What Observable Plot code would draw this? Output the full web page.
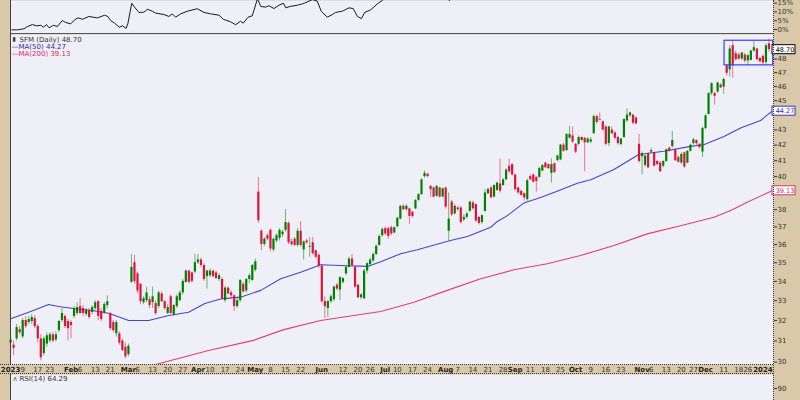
<!DOCTYPE html>
<html><head><meta charset="utf-8">
<script src="https://cdn.jsdelivr.net/npm/d3@7"></script>
<script src="https://cdn.jsdelivr.net/npm/@observablehq/plot@0.6"></script>
<style>
html,body{margin:0;padding:0;background:#fff;}
#chart{position:relative;width:800px;height:400px;overflow:hidden;background:#d9c9a9;font-family:"DejaVu Sans",Verdana,sans-serif;}
#chart > div.panel{position:absolute;left:0;}
#chart svg{display:block;}
.ln{position:absolute;}
</style></head><body>
<div id="chart">
  <div id="top" class="panel" style="top:0"></div>
  <div id="main" class="panel" style="top:34px"></div>
  <div id="rsi" class="panel" style="top:374px"></div>
  <div class="ln" style="left:10px;top:33px;width:763px;border-top:1px solid #555"></div>
  <div class="ln" style="left:0;top:364px;width:773px;border-top:1px dotted #333"></div>
  <div class="ln" style="left:0;top:373px;width:773px;border-top:1px dotted #333"></div>
  <div class="ln" style="left:773px;top:0;height:400px;border-left:1px dotted #333"></div>
  <div class="ln" style="left:10px;top:0;height:364px;border-left:1px solid #444"></div>
  <div class="ln" style="left:10px;top:374px;height:26px;border-left:1px solid #444"></div>
</div>
<script>
// ---- Daily OHLC, 3 Jan 2023 .. 3 Jan 2024 (trading-day index) ----
const opens = [30.9,30.8,31.1,31.55,31.2,32.0,31.9,31.95,32.1,31.7,31.1,30.4,30.85,31.0,31.3,31.05,31.5,32.0,32.2,31.95,
31.9,32.2,32.35,32.7,32.6,32.3,32.5,32.4,32.6,32.95,32.45,32.4,32.75,32.35,31.9,31.35,31.35,31.0,30.7,
30.35,33.95,35.0,34.4,33.85,32.9,33.0,33.05,32.9,32.85,32.7,33.35,32.95,32.35,33.2,32.3,32.7,33.0,33.4,33.95,34.55,34.45,34.5,
35.0,35.15,34.85,34.25,34.3,34.55,34.45,34.1,34.1,33.0,33.65,33.4,33.25,32.7,33.0,33.85,33.5,34.1,34.05,
34.6,39.05,36.75,36.0,36.5,36.8,35.7,36.2,36.35,36.55,36.8,37.2,36.15,36.3,35.95,36.75,35.7,36.2,35.85,36.1,35.65,35.4,
34.8,32.95,32.6,32.95,33.05,33.8,33.55,33.95,34.4,34.75,35.2,34.75,33.8,33.15,33.1,34.55,34.9,35.1,35.45,35.95,36.5,
36.9,36.9,36.95,36.65,37.0,37.45,38.2,38.0,38.05,37.85,38.05,38.55,38.9,40.0,40.15,39.4,39.3,38.8,39.3,38.75,
39.3,36.75,38.45,37.75,38.1,38.1,37.4,37.55,37.9,38.4,38.3,37.55,37.25,37.9,38.95,39.3,38.75,39.15,39.55,39.45,39.8,40.65,40.75,
40.1,39.3,39.1,38.95,38.6,40.0,40.1,39.95,39.95,40.35,40.85,40.75,40.2,40.8,41.0,41.05,42.0,41.65,42.45,42.6,
42.05,42.05,42.5,42.45,42.15,42.2,42.75,43.9,43.7,43.55,43.2,42.1,43.0,42.8,42.5,42.05,42.5,43.6,43.95,44.0,43.8,42.05,
41.25,40.7,41.45,41.55,41.5,40.95,40.85,40.65,40.95,41.8,41.9,41.7,41.2,40.85,41.5,40.85,41.6,42.1,42.3,42.05,41.55,
43.1,44.05,45.5,45.5,45.6,46.1,45.95,47.5,47.2,49.0,48.4,48.3,48.0,48.3,47.85,47.9,48.6,48.75,48.05,48.2,
47.75,49.15];
const highs = [31.5,31.0,31.8,31.7,32.1,32.2,32.2,32.3,32.25,31.8,31.3,31.2,31.4,31.4,31.4,31.45,32.0,32.6,32.3,32.05,
32.0,32.7,32.9,33.1,32.75,32.6,32.6,32.75,33.0,33.0,32.6,32.9,33.25,32.4,32.0,32.0,31.45,31.1,30.9,
30.85,35.45,35.4,34.5,33.9,33.2,33.7,33.2,33.7,33.0,33.5,33.45,33.0,32.8,33.3,32.8,33.3,33.5,34.1,34.6,34.6,34.5,35.45,
35.45,35.25,34.95,34.6,34.65,34.6,34.55,34.4,34.2,33.75,33.7,33.5,33.3,33.1,34.1,33.95,34.15,34.4,34.9,
35.2,39.95,36.85,36.4,36.6,36.9,36.35,36.6,36.9,36.8,38.0,37.3,36.3,36.4,36.9,37.3,36.2,36.3,36.4,36.4,35.7,35.5,
34.9,33.2,33.0,33.3,33.75,33.9,34.25,34.2,34.8,35.3,35.45,34.8,33.85,33.35,34.65,35.0,35.25,35.55,36.0,36.55,36.95,
37.0,37.0,37.05,37.0,37.55,38.25,38.3,38.3,38.1,37.9,38.6,38.95,39.85,40.35,40.2,39.45,39.35,39.45,39.35,39.3,
39.35,39.0,38.55,38.3,38.2,38.2,37.7,37.85,38.5,38.5,38.35,37.6,37.7,39.2,39.3,39.4,39.5,39.65,41.1,39.9,40.5,41.1,40.8,
40.15,39.35,39.15,39.0,39.85,40.1,40.15,40.0,40.6,40.75,40.9,40.8,41.1,40.85,41.35,42.05,42.1,42.75,43.25,43.2,
42.1,42.6,42.55,42.5,42.5,42.5,44.0,44.0,44.15,43.6,43.3,43.25,43.2,42.9,42.6,42.45,43.75,44.45,44.2,44.05,43.9,42.7,
41.55,41.35,41.5,41.8,41.55,41.0,40.95,41.0,41.75,41.9,42.9,41.75,41.3,41.5,41.55,41.65,42.05,42.45,42.35,42.1,43.2,
44.05,45.55,46.25,45.6,46.3,46.2,46.6,47.6,49.0,49.35,48.6,48.45,48.5,48.4,48.35,48.65,49.3,48.8,48.1,48.3,
49.15,49.5];
const lows = [30.4,30.3,31.0,31.3,31.1,31.6,31.8,31.8,31.6,30.9,30.05,30.3,30.7,30.9,30.9,30.95,31.4,31.9,31.6,31.0,
31.1,32.1,32.25,32.3,32.2,32.2,32.05,32.3,32.5,32.0,31.95,32.3,32.6,31.5,31.4,31.2,30.8,30.5,30.15,
30.25,33.9,33.85,33.35,32.8,32.8,32.9,32.6,32.6,32.25,32.6,32.9,32.5,32.3,32.3,32.2,32.6,32.95,33.3,33.9,33.9,33.9,34.4,
34.9,34.75,34.0,33.6,34.2,34.2,34.1,34.0,33.05,32.9,33.3,33.1,32.45,32.6,32.9,33.4,33.4,33.9,34.0,
34.5,37.2,35.65,35.9,36.2,35.6,35.6,36.1,36.2,36.4,36.7,36.0,35.9,35.9,35.85,35.85,35.15,36.0,35.3,35.4,35.2,34.7,
32.85,32.1,32.15,32.85,32.95,33.5,33.0,33.85,34.3,34.7,34.8,33.65,33.1,33.05,33.05,34.4,34.8,35.0,35.4,35.9,36.4,
36.5,36.3,36.5,36.6,36.95,37.4,37.95,37.9,37.15,37.5,38.0,38.5,38.85,39.9,39.95,38.75,38.7,38.75,38.7,38.7,
38.05,36.2,37.6,37.7,37.9,37.15,37.3,37.45,37.85,38.0,37.25,37.1,37.15,37.85,38.9,38.65,38.7,39.1,39.0,39.4,39.75,40.2,40.05,
39.1,38.9,38.8,38.5,38.5,39.75,39.6,39.05,39.9,40.3,40.5,40.45,39.6,40.2,40.95,41.0,41.55,41.6,42.4,42.1,
41.45,41.95,42.25,40.3,42.1,42.1,42.7,43.4,43.6,42.9,41.95,41.9,42.7,42.35,42.0,41.95,42.45,43.55,43.85,43.35,43.35,40.85,
40.1,40.6,40.5,41.45,40.6,40.7,40.25,40.55,40.9,41.55,41.8,40.95,40.85,40.75,40.5,40.8,41.55,42.0,42.0,41.75,41.2,
43.0,44.0,45.35,44.7,45.5,45.85,45.45,46.75,46.7,46.6,47.85,47.9,47.9,47.7,47.5,47.85,48.5,47.85,47.7,47.5,
47.5,48.5];
const closes = [31.05,30.65,31.65,31.4,32.0,31.7,32.05,32.15,31.7,31.1,30.2,31.1,31.25,31.3,31.0,31.3,31.95,32.35,31.7,31.6,
31.75,32.6,32.65,32.35,32.35,32.5,32.15,32.65,32.9,32.2,32.05,32.8,32.95,31.6,31.5,31.9,30.9,30.55,30.25,
30.75,34.75,34.0,33.5,32.95,33.1,33.4,32.75,33.2,32.35,33.4,32.95,32.6,32.65,32.35,32.75,33.2,33.4,34.0,34.55,33.95,34.0,35.0,
35.15,34.85,34.1,34.55,34.55,34.25,34.15,34.3,33.1,33.65,33.35,33.25,32.7,33.0,34.05,33.45,34.1,34.3,34.85,
35.05,37.35,36.0,36.3,36.3,35.75,36.3,36.5,36.8,36.7,37.25,36.1,36.0,35.95,36.75,35.95,36.15,36.1,35.9,35.5,35.3,34.8,
32.95,32.7,32.95,33.2,33.7,33.6,34.2,34.15,34.75,35.2,34.85,33.7,33.15,33.3,34.55,34.95,35.15,35.45,35.9,36.45,36.85,
36.6,36.45,36.6,36.95,37.5,38.2,38.0,38.2,37.6,37.6,38.55,38.9,39.8,40.2,40.0,39.2,38.75,39.4,38.75,39.25,
38.15,37.45,37.7,38.2,38.0,37.25,37.55,37.75,38.45,38.05,37.35,37.2,37.65,39.0,39.2,38.7,39.45,39.6,39.1,39.8,40.4,40.3,40.1,
39.2,39.0,38.85,38.7,39.75,39.8,39.65,39.7,40.5,40.7,40.55,40.5,40.75,40.25,41.3,42.0,41.6,42.7,42.7,42.2,
41.55,42.5,42.3,42.15,42.4,42.35,43.9,43.5,43.65,43.0,42.05,43.2,42.75,42.45,42.1,42.4,43.7,44.0,44.15,43.45,43.4,40.95,
41.45,41.3,40.55,41.65,40.65,40.75,40.3,40.95,41.7,41.6,42.3,41.0,40.9,41.4,40.6,41.6,42.0,42.35,42.1,41.85,43.1,
43.95,45.5,46.2,45.3,46.25,45.9,46.5,46.95,48.75,47.5,47.95,48.0,48.45,47.85,48.25,48.6,48.85,47.95,47.8,47.7,
49.0,48.7];

// ---- Moving averages (trading-day index, value) ----
const ma50Idx = [0,6,12.6,15.9,21.4,26.9,32.5,39.1,45.7,52.3,58.9,64.3,69.5,76.1,82.8,89.4,96,102.6,109.2,118.1,122.5,129.1,134.6,145.6,151.2,158.9,161,164.4,169.9,175.4,180.9,187.6,192,199.7,207.9,216.2,225,229.4,236.1,241.6,248.2,252];
const ma50Val = [32.09,32.41,32.8,32.7,32.59,32.5,32.36,32.0,32.0,32.25,32.41,32.86,33.09,33.18,33.53,34.14,34.49,34.89,34.85,34.8,35.05,35.49,35.71,36.23,36.45,36.98,37.3,37.65,38.4,38.73,39.1,39.59,39.8,40.44,41.39,41.6,41.92,42.03,42.57,43.13,43.63,44.27];
const ma200Idx = [48,65.5,80.4,90.4,102.6,115.8,122.5,133.5,144.5,155.6,166.6,177.6,188.6,199.7,210.7,221.7,232.8,238.3,243.8,252];
const ma200Val = [29.89,30.55,31.03,31.55,32.0,32.3,32.45,32.92,33.53,34.14,34.62,34.94,35.39,35.95,36.6,37.07,37.56,37.95,38.44,39.13];

// ---- Upper performance panel (%), trading-day index ----
const perfIdx = [0.4,2.3,4.4,5.6,7.2,8.6,10,10.9,11.9,12.7,14.2,15.5,17.1,18.2,19.9,21.2,22.3,23.8,25.9,28.7,31.1,32.2,33.1,34.4,36,37.1,38.2,38.8,40.1,41.2,42.5,44.1,45.3,46.9,48,50.8,52.4,53.5,54.6,56.3,58.5,61.8,64,66.2,69,70.4,72.8,74.5,76.1,77,78.6,80,81.7,82.8,84.4,85.5,87.2,88.8,90.3,91.1,92.5,94.9,96.6,97.7,99.9,101.5,102.8,104.8,106.5,107.6,109.8,112,113.4,114.8,116.1,117.2,119.2,121.4,123,124.5,137,144.5,145.2,146,150];
const perfVal = [-0.2,-0.2,0.4,1.7,2.8,2.1,2.4,1.3,2.8,1.0,2.4,1.7,5.1,4.0,3.2,5.5,6.6,5.8,7.4,6.6,8.1,7.4,5.1,3.6,1.3,2.1,0.6,3.2,14.9,12.3,9.7,9.8,11.5,10.4,9.3,8.5,7.4,8.9,7.0,8.9,10.4,11.8,9.7,8.9,8.1,5.8,4.4,2.7,4.7,3.6,7.0,7.8,17.5,13.1,12.7,13.5,11.9,13.8,14.9,12.3,13.1,13.8,14.6,15.3,17.0,16.1,10.4,7.0,8.5,9.7,10.4,12.3,11.9,7.4,6.2,9.7,11.2,14.6,16.5,18.5,24,19,16.4,19,21];

// ---- Axis ticks (labels hidden behind the value tags are left out) ----
const priceTicks = [30,31,32,33,34,35,36,37,38,40,41,42,43,45,46,47,48];
const pctTicks = [0,5,10,15];
const rsiTicks = [90];
const monthTickIdx = [0,20,39,62,81,103,124,144,167,187,209,230];
const monthTickLabels = ["2023","Feb","Mar","Apr","May","Jun","Jul","Aug","Sep","Oct","Nov","Dec"];
const dayTickIdx = [4,9,13,23,28,33,42,47,52,57,66,71,76,86,91,96,110,115,119,128,133,138,148,153,158,163,172,177,182,192,197,202,212,217,222,226,236,241];
const dayTickLabels = ["9","17","23","6","13","21","6","13","20","27","10","17","24","8","15","22","12","20","26","10","17","24","7","14","21","28","11","18","25","9","16","23","6","13","20","27","11","18"];
const lateTickIdx = [246];
const lateTickLabels = ["26"];
const yearEndIdx = [250];
const yearEndLabel = ["2024"];

// ---- Annotation box & indicator values ----
const boxIdx = [236.3, 252.4];
const boxPrice = [47.53, 49.38];
const rsiLast = 64.29;

const days = closes.map((c, i) => ({i, open: opens[i], high: highs[i], low: lows[i], close: c}));
const xDomain = [-0.03, 252.5];
const bg = "#efeff7";
const upC = "#008000", dnC = "#dc143c";
const candleColor = d => d.close >= d.open ? upC : dnC;
const font = {background: "transparent", fontFamily: "'DejaVu Sans', sans-serif", fontSize: "7px", color: "#333"};
const ma50 = ma50Idx.map((x, k) => ({x, y: ma50Val[k]}));
const ma200 = ma200Idx.map((x, k) => ({x, y: ma200Val[k]}));
const perf = perfIdx.map((x, k) => ({x, y: perfVal[k]}));
const months = monthTickIdx.map((i, k) => ({i, t: monthTickLabels[k]}));
const dTicks = dayTickIdx.map((i, k) => ({i, t: dayTickLabels[k]}));
const lTicks = lateTickIdx.map((i, k) => ({i, t: lateTickLabels[k]}));
const yEnd = yearEndIdx.map((i, k) => ({i, t: yearEndLabel[k]}));
const lastClose = closes[closes.length - 1];
const last50 = ma50Val[ma50Val.length - 1];
const last200 = ma200Val[ma200Val.length - 1];
const tags = [
  {v: lastClose, s: "#000", t: "#000"},
  {v: last50, s: "#3434d0", t: "#2a2aa8"},
  {v: last200, s: "#e0306a", t: "#d82058"}
];

// ---- Top performance panel ----
const topPlot = Plot.plot({
  width: 800, height: 34, marginTop: 0, marginBottom: 0, marginLeft: 10, marginRight: 27,
  x: {domain: xDomain, axis: null},
  y: {domain: [-2.84, 16.48], axis: null},
  style: font,
  marks: [
    Plot.frame({fill: bg, stroke: "none"}),
    Plot.line(perf, {x: "x", y: "y", stroke: "#1a1a1a", strokeWidth: 1, clip: true}),
    Plot.axisY(pctTicks, {anchor: "right", tickSize: 3, tickPadding: 1, tickFormat: d => d + "%", fontSize: 7, color: "#333", label: null})
  ]
});
document.getElementById("top").appendChild(topPlot);

// ---- Main price panel ----
const mainPlot = Plot.plot({
  width: 800, height: 340, marginTop: 0, marginBottom: 10, marginLeft: 10, marginRight: 27,
  x: {domain: xDomain, axis: null},
  y: {type: "log", domain: [29.89, 49.86], axis: null},
  color: {type: "identity"},
  style: font,
  marks: [
    Plot.frame({fill: bg, stroke: "none"}),
    Plot.line(ma200, {x: "x", y: "y", stroke: "#e0406e", strokeWidth: 1.1, clip: true}),
    Plot.line(ma50, {x: "x", y: "y", stroke: "#4646c4", strokeWidth: 1.1, clip: true}),
    Plot.ruleX(days, {x: "i", y1: "low", y2: "high", stroke: candleColor, strokeWidth: 1, strokeOpacity: 0.55}),
    Plot.ruleX(days, {x: "i", y1: "open", y2: "close", stroke: candleColor, strokeWidth: 2.2}),
    Plot.rect([{x1: boxIdx[0], x2: boxIdx[1], y1: boxPrice[0], y2: boxPrice[1]}], {x1: "x1", x2: "x2", y1: "y1", y2: "y2", fill: "none", stroke: "#3c3cff", strokeWidth: 1.2}),
    Plot.axisY(priceTicks, {anchor: "right", tickSize: 3, tickPadding: 1, tickFormat: d => String(d), fontSize: 7, color: "#333", label: null}),
    Plot.rect(tags, {x1: () => xDomain[1], x2: () => xDomain[1], y1: "v", y2: "v", insetLeft: -1, insetRight: -22, insetTop: -4.5, insetBottom: -4.5, fill: "white", stroke: d => d.s, strokeWidth: 1}),
    Plot.text(tags, {x: () => xDomain[1], y: "v", dx: 11.5, text: d => d.v.toFixed(2), fill: d => d.t, fontSize: 6.5, textAnchor: "middle"}),
    // legend
    Plot.text(["▮"], {frameAnchor: "top-left", dx: 2, dy: 5, lineAnchor: "middle", textAnchor: "start", fill: "#333", fontSize: 6}),
    Plot.text([`SFM (Daily) ${lastClose.toFixed(2)}`], {frameAnchor: "top-left", dx: 9, dy: 5, lineAnchor: "middle", textAnchor: "start", fill: "#333", fontSize: 7}),
    Plot.text([`—MA(50) ${last50.toFixed(2)}`], {frameAnchor: "top-left", dx: 1, dy: 12, lineAnchor: "middle", textAnchor: "start", fill: "#2a2ab0", fontSize: 7}),
    Plot.text([`—MA(200) ${last200.toFixed(2)}`], {frameAnchor: "top-left", dx: 1, dy: 19, lineAnchor: "middle", textAnchor: "start", fill: "#e02a5a", fontSize: 7}),
    // date axis
    Plot.text(months, {x: "i", text: "t", frameAnchor: "bottom", dy: 5, lineAnchor: "middle", textAnchor: "middle", fontWeight: "bold", fill: "#222", fontSize: 7}),
    Plot.text(dTicks, {x: "i", text: "t", frameAnchor: "bottom", dy: 5, lineAnchor: "middle", textAnchor: "middle", fill: "#333", fontSize: 7}),
    Plot.text(lTicks, {x: "i", text: "t", frameAnchor: "bottom", dy: 5, dx: -6, lineAnchor: "middle", textAnchor: "middle", fill: "#333", fontSize: 7}),
    Plot.text(yEnd, {x: "i", text: "t", frameAnchor: "bottom", dy: 5, dx: -3, lineAnchor: "middle", textAnchor: "middle", fontWeight: "bold", fill: "#222", fontSize: 7})
  ]
});
document.getElementById("main").appendChild(mainPlot);

// ---- RSI panel (top of) ----
const rsiPlot = Plot.plot({
  width: 800, height: 26, marginTop: 0, marginBottom: 0, marginLeft: 10, marginRight: 27,
  x: {domain: xDomain, axis: null},
  y: {domain: [81.4, 100], axis: null},
  style: font,
  marks: [
    Plot.frame({fill: bg, stroke: "none"}),
    Plot.axisY(rsiTicks, {anchor: "right", tickSize: 3, tickPadding: 1, tickFormat: d => String(d), fontSize: 7, color: "#333", label: null}),
    Plot.text(["∧"], {frameAnchor: "top-left", dx: 2, dy: 4.5, lineAnchor: "middle", textAnchor: "start", fill: "#1a7a1a", fontSize: 7}),
    Plot.text([`RSI(14) ${rsiLast.toFixed(2)}`], {frameAnchor: "top-left", dx: 9, dy: 4.5, lineAnchor: "middle", textAnchor: "start", fill: "#333", fontSize: 7})
  ]
});
document.getElementById("rsi").appendChild(rsiPlot);
</script>
</body></html>
